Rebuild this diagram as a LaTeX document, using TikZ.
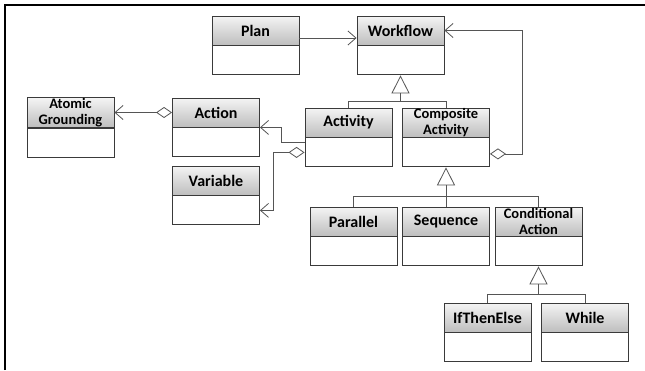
\documentclass[tikz,border=0pt]{standalone}
\usepackage{fontspec}
\setmainfont{Carlito}
\usetikzlibrary{arrows.meta,calc}

\definecolor{linegray}{HTML}{3A3A3A}
\definecolor{conngray}{HTML}{555555}
\definecolor{headtop}{HTML}{F4F4F4}
\definecolor{headbot}{HTML}{BEBEBE}

\tikzset{
  classhead/.style={draw=linegray, line width=0.9pt, rectangle,
    minimum width=87pt, minimum height=29pt, inner sep=0pt,
    top color=headtop, bottom color=headbot, align=center,
    font=\bfseries\fontsize{16}{17}\selectfont},
  twoline/.style={font=\bfseries\fontsize{14.5}{16.5}\selectfont},
  classbody/.style={draw=linegray, line width=0.9pt, rectangle,
    minimum width=87pt, minimum height=29pt, inner sep=0pt,
    fill=white, anchor=north},
  conn/.style={draw=conngray, line width=0.8pt},
  navig/.style={conn, -{Straight Barb[length=8pt,width=14pt]}},
  aggr/.style={conn, {Diamond[open,length=16pt,width=11pt,fill=white]}-{Straight Barb[length=8pt,width=14pt]}},
  inherit/.style={conn, -{Triangle[open,length=18pt,width=18pt,fill=white]}},
}

% class box: header node #2 with label #4, empty body node #2-b below it
\newcommand\umlclass[4][]{%
  \node[classhead,#1] (#2) at (#3) {#4};
  \node[classbody] (#2-b) at (#2.south) {};
}

\begin{document}
\begin{tikzpicture}[x=1pt,y=-1pt]
\useasboundingbox (0,0) rectangle (645,370);

% page frame
\draw[line width=2.5pt] (5,370) -- (5,5) -- (645,5);

% classes
\umlclass{plan}{255.5,30.5}{Plan}
\umlclass{wf}{400.5,30.5}{Workflow}
\umlclass[twoline]{atomic}{70.5,112.5}{Atomic\\Grounding}
\umlclass{action}{216,112.5}{Action}
\umlclass{var}{216,180.5}{Variable}
\umlclass{act}{348.5,122.5}{Activity}
\umlclass[twoline]{comp}{446,122.5}{Composite\\Activity}
\umlclass{par}{353.5,221.5}{Parallel}
\umlclass{seq}{446,221.5}{Sequence}
\umlclass[twoline]{cond}{538.5,221.5}{Conditional\\Action}
\umlclass{ite}{487.5,317.5}{IfThenElse}
\umlclass{while}{585,317.5}{While}

% associations
\draw[navig] ([yshift=-7.5pt]plan.east) -- ([yshift=-7.5pt]wf.west);
\draw[navig] ([yshift=10.5pt]act-b.west) -- ++(-23,0) |- (action.south east);

% aggregations
\draw[aggr] (action.west) -- (atomic.east);
\draw[aggr] (act-b.west) -- ++(-31,0) |- (var-b.east);
\draw[aggr] ([yshift=-1.5pt]comp-b.east) -- ++(32,0) |- (wf.east);

% generalisations
\coordinate (j1) at ($(wf-b.south)+(0,26)$);
\draw[conn] (act.north) |- (j1) -| (comp.north);
\draw[inherit] (j1) -- (wf-b.south);

\coordinate (j2) at ($(comp-b.south)+(0,29)$);
\draw[conn] (par.north) |- (j2) -| (cond.north);
\draw[conn] (seq.north) -- (seq.north |- j2);
\draw[inherit] (j2) -- (comp-b.south);

\coordinate (j3) at ($(cond-b.south)+(0,28)$);
\draw[conn] (ite.north) |- (j3) -| (while.north);
\draw[inherit] (j3) -- (cond-b.south);
\end{tikzpicture}
\end{document}
